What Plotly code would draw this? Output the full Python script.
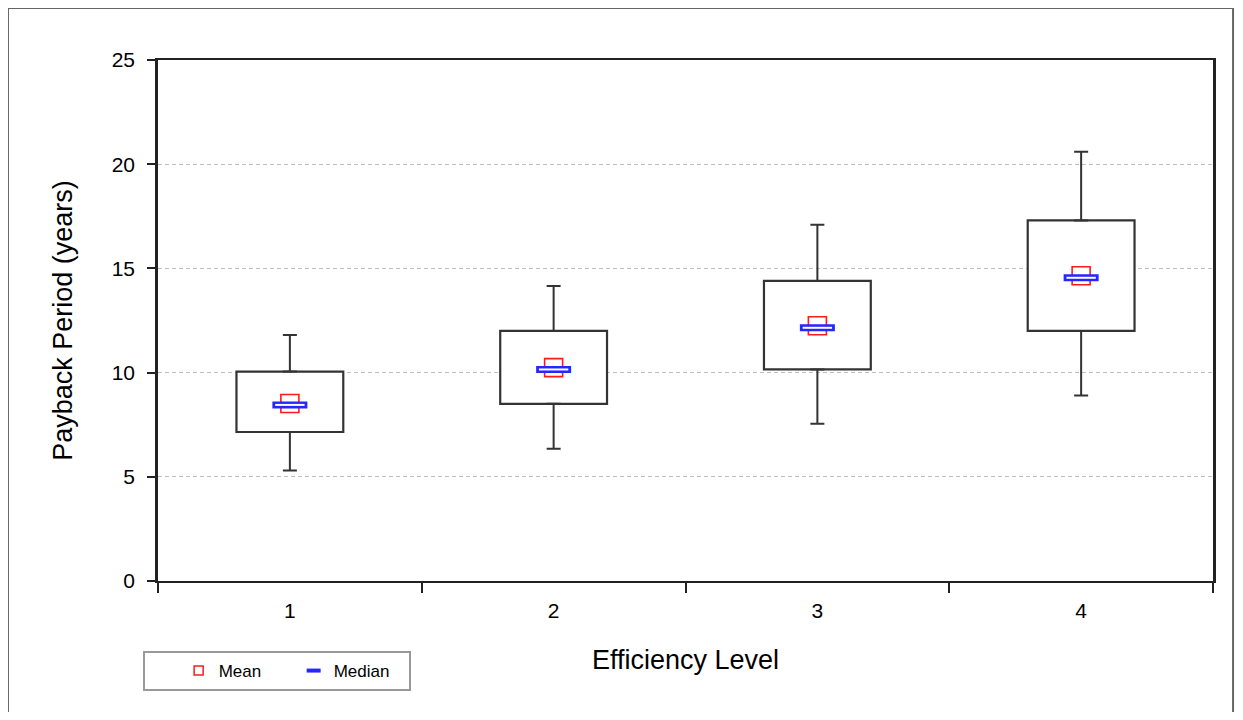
import plotly.graph_objects as go

levels = [1, 2, 3, 4]
level_labels = ["1", "2", "3", "4"]
whisker_low = [5.3, 6.35, 7.55, 8.9]
q1 = [7.15, 8.5, 10.15, 12.0]
q3 = [10.05, 12.0, 14.4, 17.3]
whisker_high = [11.8, 14.15, 17.1, 20.6]
means = [8.52, 10.24, 12.25, 14.65]
medians = [8.45, 10.15, 12.15, 14.55]

FONT = "Liberation Sans, Arial, sans-serif"
EDGE = "#333333"
RED = "#ff1a1a"
BLUE = "#2626ff"

fig = go.Figure()

# Boxes (interquartile range)
fig.add_trace(go.Bar(
    x=levels, base=q1, y=[b - a for a, b in zip(q1, q3)],
    width=0.405, marker=dict(color="white", line=dict(color=EDGE, width=2.2)),
    showlegend=False, hoverinfo="skip",
))

# Whiskers
fig.add_trace(go.Scatter(
    x=levels + levels, y=q3 + q1, mode="markers",
    marker=dict(size=1, color="rgba(0,0,0,0)"),
    error_y=dict(type="data", symmetric=False,
                 array=[h - t for h, t in zip(whisker_high, q3)] + [0] * 4,
                 arrayminus=[0] * 4 + [b - l for b, l in zip(q1, whisker_low)],
                 color=EDGE, thickness=2, width=7),
    showlegend=False, hoverinfo="skip",
))

# Mean markers
fig.add_trace(go.Scatter(
    x=levels, y=means, mode="markers", name="Mean", showlegend=False,
    marker=dict(symbol="square-open", size=18, color=RED, line=dict(width=1.6)),
))
# Median markers (blue outlined bar with white core)
fig.add_trace(go.Scatter(
    x=levels, y=medians, mode="markers", name="Median", showlegend=False,
    marker=dict(symbol="line-ew", size=25, color=BLUE, line=dict(width=7, color=BLUE)),
))
fig.add_trace(go.Scatter(
    x=levels, y=medians, mode="markers", showlegend=False, hoverinfo="skip",
    marker=dict(symbol="line-ew", size=21, color="white", line=dict(width=2, color="white")),
))

# Legend entries
fig.add_trace(go.Scatter(
    x=[None], y=[None], mode="markers", name="Mean",
    marker=dict(symbol="square-open", size=9, color=RED, line=dict(width=1.5)),
))
fig.add_trace(go.Scatter(
    x=[None], y=[None], mode="markers", name="Median",
    marker=dict(symbol="line-ew", size=10, color=BLUE, line=dict(width=4, color=BLUE)),
))

fig.update_layout(
    width=1227, height=704,
    margin=dict(l=150, r=22, t=52, b=131),
    paper_bgcolor="white", plot_bgcolor="white",
    font=dict(family=FONT, size=21, color="black"),
    showlegend=True,
    legend=dict(orientation="h", x=-0.0142, y=-0.1344, xanchor="left", yanchor="top",
                bgcolor="white", bordercolor="#999999", borderwidth=2,
                font=dict(size=17), entrywidth=70, itemwidth=30,
                title=dict(text="&nbsp;&nbsp;&nbsp;&nbsp;&nbsp;", side="left", font=dict(size=17))),
    xaxis=dict(range=[0.5, 4.5], tickvals=levels, ticktext=level_labels, ticks="",
               showgrid=False, zeroline=False, showline=True, linecolor="#222222",
               linewidth=2, mirror=True, ticklabelstandoff=10,
               minor=dict(tickvals=[0.5, 1.5, 2.5, 3.5, 4.5], ticks="outside",
                          ticklen=10, tickcolor="#222222", tickwidth=2),
               tickfont=dict(size=21),
               title=dict(text="Efficiency Level", font=dict(size=27), standoff=29)),
    yaxis=dict(range=[0, 25], dtick=5, ticks="outside", ticklen=8, tickwidth=2,
               tickcolor="#222222", showline=True, linecolor="#222222", linewidth=2.5,
               mirror=True, showgrid=True, gridcolor="#c0c0c0", griddash="4px,3px",
               gridwidth=1, zeroline=False, tickfont=dict(size=21), ticklabelstandoff=8,
               title=dict(text="Payback Period (years)", font=dict(size=27), standoff=32)),
    shapes=[dict(type="rect", xref="paper", yref="paper",
                 x0=-0.1422, x1=1.019, y0=-0.3, y1=1.0998,
                 line=dict(color="#666666", width=2), layer="below")],
)

fig.write_html("out.html")
